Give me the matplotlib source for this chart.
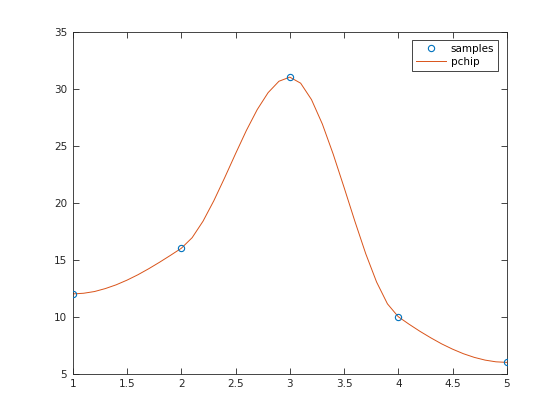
import matplotlib
matplotlib.use("Agg")
import matplotlib.pyplot as plt

# sample points
x_samples = [1, 2, 3, 4, 5]
y_samples = [12, 16, 31, 10, 6]

# pchip curve, step 0.1
x_curve = [1.0, 1.1, 1.2, 1.3, 1.4, 1.5, 1.6, 1.7, 1.8, 1.9,
           2.0, 2.1, 2.2, 2.3, 2.4, 2.5, 2.6, 2.7, 2.8, 2.9,
           3.0, 3.1, 3.2, 3.3, 3.4, 3.5, 3.6, 3.7, 3.8, 3.9,
           4.0, 4.1, 4.2, 4.3, 4.4, 4.5, 4.6, 4.7, 4.8, 4.9, 5.0]
y_curve = [12.0, 12.06, 12.21, 12.47, 12.80, 13.21, 13.68, 14.21, 14.78, 15.38,
           16.0, 16.93, 18.37, 20.17, 22.19, 24.29, 26.33, 28.16, 29.64, 30.64,
           31.0, 30.47, 29.03, 26.89, 24.25, 21.34, 18.36, 15.52, 13.04, 11.13,
           10.0, 9.34, 8.72, 8.15, 7.62, 7.16, 6.76, 6.44, 6.20, 6.05, 6.0]

blue = (0, 0.447, 0.741)
orange = (0.85, 0.325, 0.098)
axcol = (0.15, 0.15, 0.15)

plt.rcParams['font.family'] = ['DejaVu Sans']
plt.rcParams['font.size'] = 7.5

fig = plt.figure(figsize=(5.6, 4.2), dpi=100)
ax = fig.add_axes([0.13, 0.11, 0.775, 0.815])

ax.plot(x_samples, y_samples, linestyle='none', marker='o', markersize=4.5,
        markerfacecolor='none', markeredgecolor=blue, markeredgewidth=0.8,
        label='samples', zorder=3)
ax.plot(x_curve, y_curve, color=orange, linewidth=0.7, label='pchip', zorder=2)

ax.set_xlim(1, 5)
ax.set_ylim(5, 35)
ax.set_xticks([1, 1.5, 2, 2.5, 3, 3.5, 4, 4.5, 5])
ax.set_xticklabels(['1', '1.5', '2', '2.5', '3', '3.5', '4', '4.5', '5'])
ax.set_yticks([5, 10, 15, 20, 25, 30, 35])

ax.tick_params(direction='in', length=4, width=0.6, colors=axcol,
               top=True, right=True, pad=4)
for s in ax.spines.values():
    s.set_color(axcol)
    s.set_linewidth(0.6)

leg = ax.legend(loc='upper right', fancybox=False, framealpha=1,
                edgecolor=axcol, borderaxespad=0.8, handlelength=2.8,
                handletextpad=0.5, borderpad=0.4, labelspacing=0.3)
leg.get_frame().set_linewidth(0.6)

fig.savefig('out.png', dpi=100)
